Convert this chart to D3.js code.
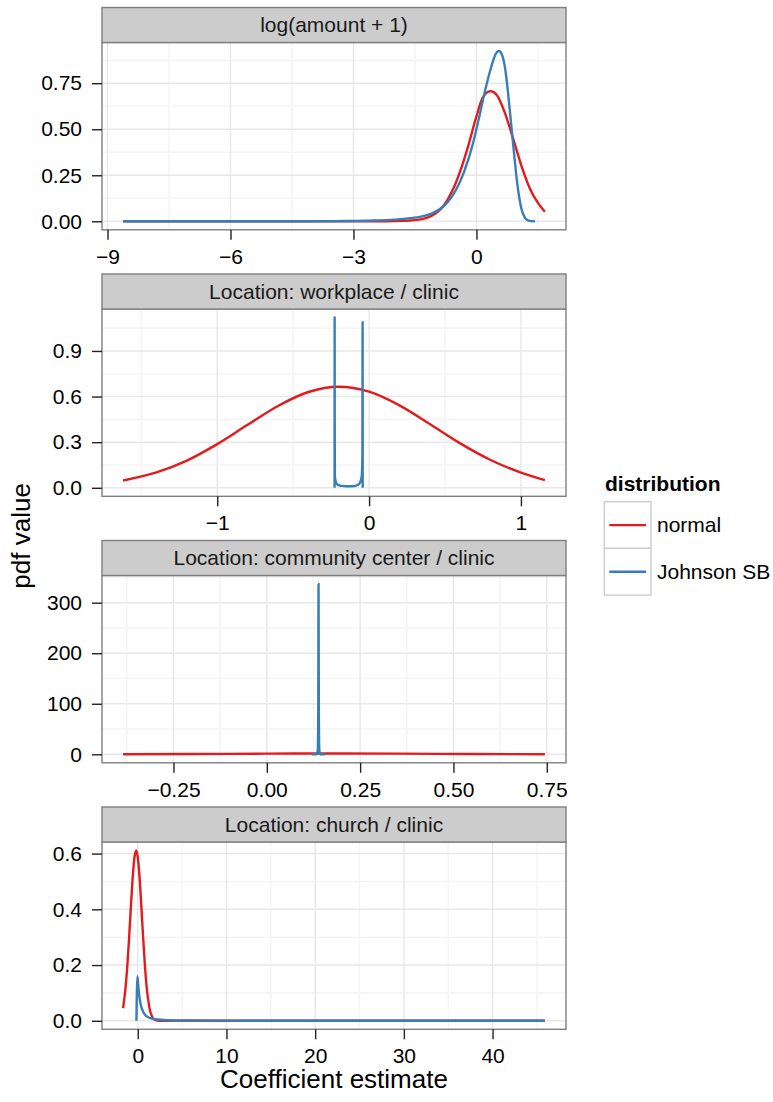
<!DOCTYPE html>
<html>
<head>
<meta charset="utf-8">
<script src="https://cdn.jsdelivr.net/npm/d3@7"></script>
<style>
  body { margin: 0; background: #fff; }
  svg { display: block; font-family: "Liberation Sans", Arial, Helvetica, sans-serif; }
</style>
</head>
<body>
<svg id="chart" width="773" height="1102"></svg>
<script>
// facet labels and legend entries
const facetTitles = ["log(amount + 1)", "Location: workplace / clinic", "Location: community center / clinic", "Location: church / clinic"];
const seriesNames = ["normal", "Johnson SB"];
const seriesColors = ["#E41A1C", "#377EB8"];

// [x, pdf] pairs
const logNormal = [[-8.62,0],[-3,0],[-2.2,0.0003],[-1.8,0.002],[-1.5,0.006],[-1.2,0.02],[-1.0,0.042],[-0.8,0.085],[-0.6,0.16],[-0.4,0.27],[-0.2,0.41],[0,0.57],[0.15,0.67],[0.34,0.707],[0.5,0.685],[0.7,0.585],[0.9,0.445],[1.1,0.3],[1.3,0.18],[1.5,0.1],[1.67,0.052]];
const logJohnson = [[-8.62,0],[-5,0],[-3.5,0.001],[-3,0.002],[-2.5,0.004],[-2,0.009],[-1.6,0.017],[-1.3,0.028],[-1.1,0.042],[-0.9,0.065],[-0.7,0.105],[-0.5,0.17],[-0.3,0.27],[-0.1,0.41],[0.05,0.55],[0.2,0.7],[0.35,0.83],[0.47,0.91],[0.55,0.925],[0.63,0.9],[0.7,0.83],[0.77,0.7],[0.85,0.52],[0.93,0.34],[1.01,0.18],[1.1,0.065],[1.18,0.02],[1.26,0.005],[1.33,0.001],[1.425,0]];

const workNormal = [[-1.62,0.048],[-1.4,0.101],[-1.2,0.179],[-1.0,0.287],[-0.8,0.414],[-0.6,0.538],[-0.4,0.63],[-0.196,0.665],[0,0.632],[0.2,0.542],[0.4,0.419],[0.6,0.292],[0.8,0.183],[1.0,0.1],[1.158,0.05]];
const workJohnson = [[-0.2272,0],[-0.2268,1.12],[-0.2262,0.35],[-0.225,0.074],[-0.219,0.04],[-0.212,0.025],[-0.198,0.016],[-0.183,0.013],[-0.15,0.01],[-0.11,0.01],[-0.085,0.014],[-0.073,0.02],[-0.062,0.03],[-0.054,0.05],[-0.048,0.08],[-0.044,0.2],[-0.0425,1.09],[-0.0419,0]];

const communityNormal = [[-0.385,0.13],[-0.2,0.51],[0,1.22],[0.18,1.58],[0.35,1.26],[0.55,0.54],[0.745,0.13]];
const communityJohnson = [[0.12,0],[0.1335,0],[0.1365,8],[0.1378,80],[0.1386,337],[0.1394,80],[0.1407,8],[0.1437,0],[0.157,0]];

const churchNormal = [[-1.65,0.045],[-1.4,0.111],[-1.2,0.185],[-1.0,0.282],[-0.8,0.393],[-0.6,0.499],[-0.4,0.578],[-0.18,0.611],[0,0.588],[0.2,0.518],[0.4,0.415],[0.6,0.304],[0.8,0.203],[1.0,0.123],[1.3,0.05],[1.6,0.016],[2.0,0.0026],[2.5,0.0002],[3,0],[45.9,0]];
const churchJohnson = [[-0.15,0],[-0.03,0.16],[0.1,0.11],[0.32,0.061],[0.72,0.026],[1.1,0.014],[1.57,0.008],[2.5,0.004],[3.2,0.002],[6,0.001],[12,0.0003],[25,0],[45.9,0]];

const normalByFacet = [logNormal, workNormal, communityNormal, churchNormal];
const johnsonByFacet = [logJohnson, workJohnson, communityJohnson, churchJohnson];

// axis breaks and labels
const xTickValues = [[-9,-6,-3,0],[-1,0,1],[-0.25,0,0.25,0.5,0.75],[0,10,20,30,40]];
const xTickLabels = [["\u22129","\u22126","\u22123","0"],["\u22121","0","1"],["\u22120.25","0.00","0.25","0.50","0.75"],["0","10","20","30","40"]];
const yTickValues = [[0,0.25,0.5,0.75],[0,0.3,0.6,0.9],[0,100,200,300],[0,0.2,0.4,0.6]];
const yTickLabels = [["0.00","0.25","0.50","0.75"],["0.0","0.3","0.6","0.9"],["0","100","200","300"],["0.0","0.2","0.4","0.6"]];

// layout
const plotLeft = 102, plotRight = 566;
const firstTop = 7.5, facetStep = 266.5, stripH = 35, panelH = 187.3;
const textSize = 21, titleSize = 26;

const svg = d3.select("#chart");
svg.append("rect").attr("width", 773).attr("height", 1102).attr("fill", "#fff");

// ggplot style 5% padding
function expand(ext) {
  const d = ext[1] - ext[0];
  return [ext[0] - 0.05 * d, ext[1] + 0.05 * d];
}

// midpoints between breaks, one step beyond each end
function minorBreaks(major, domain) {
  const step = major[1] - major[0];
  const ext = [major[0] - step, ...major, major[major.length - 1] + step];
  const out = [];
  for (let k = 0; k < ext.length - 1; k++) out.push((ext[k] + ext[k + 1]) / 2);
  return out.filter(v => v > domain[0] && v < domain[1]);
}

const line = d3.line().curve(d3.curveMonotoneX);

facetTitles.forEach((title, i) => {
  const top = firstTop + i * facetStep;
  const pTop = top + stripH, pBot = pTop + panelH;
  const series = [normalByFacet[i], johnsonByFacet[i]];
  const all = series.flat();

  const x = d3.scaleLinear().domain(expand(d3.extent(all, d => d[0]))).range([plotLeft, plotRight]);
  const y = d3.scaleLinear().domain(expand(d3.extent(all, d => d[1]))).range([pBot, pTop]);

  const g = svg.append("g");
  const clipId = "clip" + i;
  g.append("clipPath").attr("id", clipId)
    .append("rect").attr("x", plotLeft).attr("y", pTop).attr("width", plotRight - plotLeft).attr("height", panelH);

  g.append("rect").attr("x", plotLeft).attr("y", pTop).attr("width", plotRight - plotLeft).attr("height", panelH).attr("fill", "#fff");

  // grid
  const grid = g.append("g").attr("clip-path", `url(#${clipId})`);
  grid.selectAll(".xminor").data(minorBreaks(xTickValues[i], x.domain())).join("line")
    .attr("x1", d => x(d)).attr("x2", d => x(d)).attr("y1", pTop).attr("y2", pBot)
    .attr("stroke", "#f5f5f5").attr("stroke-width", 1.6);
  grid.selectAll(".yminor").data(minorBreaks(yTickValues[i], y.domain())).join("line")
    .attr("y1", d => y(d)).attr("y2", d => y(d)).attr("x1", plotLeft).attr("x2", plotRight)
    .attr("stroke", "#f5f5f5").attr("stroke-width", 1.6);
  grid.selectAll(".xmajor").data(xTickValues[i]).join("line")
    .attr("x1", d => x(d)).attr("x2", d => x(d)).attr("y1", pTop).attr("y2", pBot)
    .attr("stroke", "#e8e8e8").attr("stroke-width", 1.4);
  grid.selectAll(".ymajor").data(yTickValues[i]).join("line")
    .attr("y1", d => y(d)).attr("y2", d => y(d)).attr("x1", plotLeft).attr("x2", plotRight)
    .attr("stroke", "#e8e8e8").attr("stroke-width", 1.4);

  // curves
  line.x(d => x(d[0])).y(d => y(d[1]));
  g.append("g").attr("clip-path", `url(#${clipId})`)
    .selectAll("path").data(series).join("path")
    .attr("d", d => line(d))
    .attr("fill", "none")
    .attr("stroke", (d, k) => seriesColors[k])
    .attr("stroke-width", 2.4)
    .attr("stroke-linejoin", "round");

  // border
  g.append("rect").attr("x", plotLeft).attr("y", pTop).attr("width", plotRight - plotLeft).attr("height", panelH)
    .attr("fill", "none").attr("stroke", "#7f7f7f").attr("stroke-width", 1.4);

  // strip
  g.append("rect").attr("x", plotLeft).attr("y", top).attr("width", plotRight - plotLeft).attr("height", stripH)
    .attr("fill", "#cccccc").attr("stroke", "#7f7f7f").attr("stroke-width", 1.4);
  g.append("text").attr("x", (plotLeft + plotRight) / 2).attr("y", top + stripH / 2).attr("dy", "0.35em")
    .attr("text-anchor", "middle").attr("font-size", textSize).attr("fill", "#1a1a1a").text(title);

  // axes
  const styleAxis = a => {
    a.attr("font-family", null).attr("font-size", null);
    a.select(".domain").remove();
    a.selectAll(".tick line").attr("stroke", "#222").attr("stroke-width", 1.4);
    a.selectAll(".tick text").attr("font-size", textSize).attr("fill", "#000");
  };
  g.append("g").attr("transform", `translate(0,${pBot})`)
    .call(d3.axisBottom(x).tickValues(xTickValues[i]).tickFormat((d, j) => xTickLabels[i][j]).tickSize(10).tickPadding(9))
    .call(styleAxis);
  g.append("g").attr("transform", `translate(${plotLeft},0)`)
    .call(d3.axisLeft(y).tickValues(yTickValues[i]).tickFormat((d, j) => yTickLabels[i][j]).tickSize(10).tickPadding(10))
    .call(styleAxis);
});

// axis titles
const lastBottom = firstTop + 3 * facetStep + stripH + panelH;
svg.append("text").attr("x", (plotLeft + plotRight) / 2).attr("y", lastBottom + 59)
  .attr("text-anchor", "middle").attr("font-size", titleSize).attr("fill", "#000").text("Coefficient estimate");
const yMid = (firstTop + stripH + lastBottom) / 2;
svg.append("text").attr("transform", `translate(30,${yMid}) rotate(-90)`)
  .attr("text-anchor", "middle").attr("font-size", titleSize).attr("fill", "#000").text("pdf value");

// legend
const keySize = 46.7, legX = 604.3, legY = 501.7;
const legend = svg.append("g");
legend.append("text").attr("x", 605).attr("y", 490.5).attr("font-size", textSize).attr("font-weight", "bold")
  .attr("fill", "#000").text("distribution");
seriesNames.forEach((name, k) => {
  const ky = legY + k * keySize;
  legend.append("rect").attr("x", legX).attr("y", ky).attr("width", keySize).attr("height", keySize)
    .attr("fill", "#fff").attr("stroke", "#cccccc").attr("stroke-width", 1.4);
  legend.append("line").attr("x1", legX + 5).attr("x2", legX + keySize - 5)
    .attr("y1", ky + keySize / 2).attr("y2", ky + keySize / 2)
    .attr("stroke", seriesColors[k]).attr("stroke-width", 2.3);
  legend.append("text").attr("x", legX + keySize + 6).attr("y", ky + keySize / 2).attr("dy", "0.35em")
    .attr("font-size", textSize).attr("fill", "#000").text(name);
});
</script>
</body>
</html>
